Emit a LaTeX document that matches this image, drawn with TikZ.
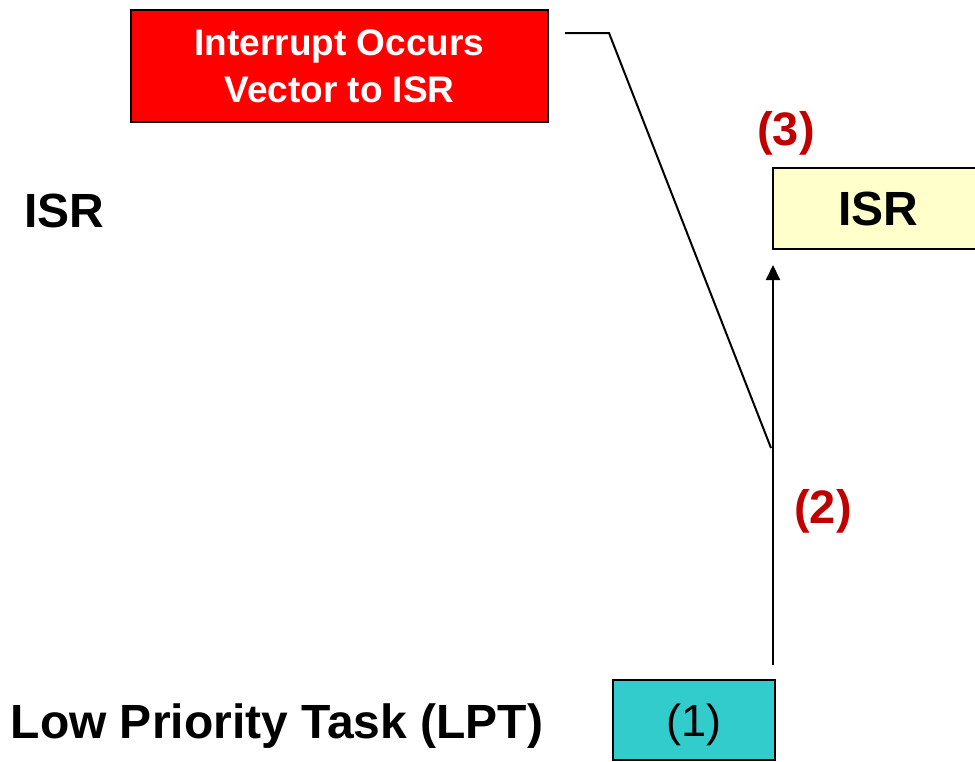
\documentclass[tikz,border=0pt]{standalone}
\usepackage{fontspec}
\setmainfont{Liberation Sans}
\usetikzlibrary{arrows.meta}
\definecolor{boxred}{HTML}{FF0000}
\definecolor{isryellow}{HTML}{FFFFCC}
\definecolor{lptcyan}{HTML}{33CCCC}
\definecolor{numred}{HTML}{C00000}
\tikzset{
  box/.style={draw=black, line width=2pt, rectangle, inner sep=0pt},
  bigbold/.style={font=\fontsize{48}{54}\selectfont\bfseries},
  numlabel/.style={font=\fontsize{47}{54}\selectfont\bfseries, text=numred, anchor=base},
  conn/.style={draw=black, line width=2pt},
}
\begin{document}
\begin{tikzpicture}[x=1pt,y=-1pt]
\clip (0,0) rectangle (975,761);
\fill[white] (0,0) rectangle (975,761);
% boxes
\node[box, fill=boxred, minimum width=417pt, minimum height=112pt, text=white,
      align=center, font=\fontsize{37}{47}\selectfont\bfseries] (intr) at (339.5,66)
      {Interrupt Occurs\\Vector to ISR};
\node[box, fill=isryellow, minimum width=210pt, minimum height=81pt, bigbold, text depth=0pt] (isrbox) at (878,208.5) {ISR};
\node[box, fill=lptcyan, minimum width=162pt, minimum height=80pt,
      font=\fontsize{45}{52}\selectfont, text depth=0pt] (lpt) at (694,720) {(1)};
% labels
\node[bigbold, anchor=base west, inner sep=0pt] (isrlabel) at (24,227) {ISR};
\node[bigbold, anchor=base west, inner sep=0pt] (lptlabel) at (10.5,738) {Low Priority Task (LPT)};
\node[numlabel, inner sep=0pt] (n3) at (786,145) {(3)};
\node[numlabel, inner sep=0pt] (n2) at (823,523) {(2)};
% connectors
\coordinate (astart) at (773,665);
\coordinate (aend) at (773,265);
\draw[conn, -{Triangle[width=14pt,length=15pt]}] (astart) -- (aend);
\coordinate (d0) at (565,33);
\coordinate (d1) at (609,33);
\coordinate (d2) at (771,448);
\draw[conn, line join=miter] (d0) -- (d1) -- (d2);
\end{tikzpicture}
\end{document}
